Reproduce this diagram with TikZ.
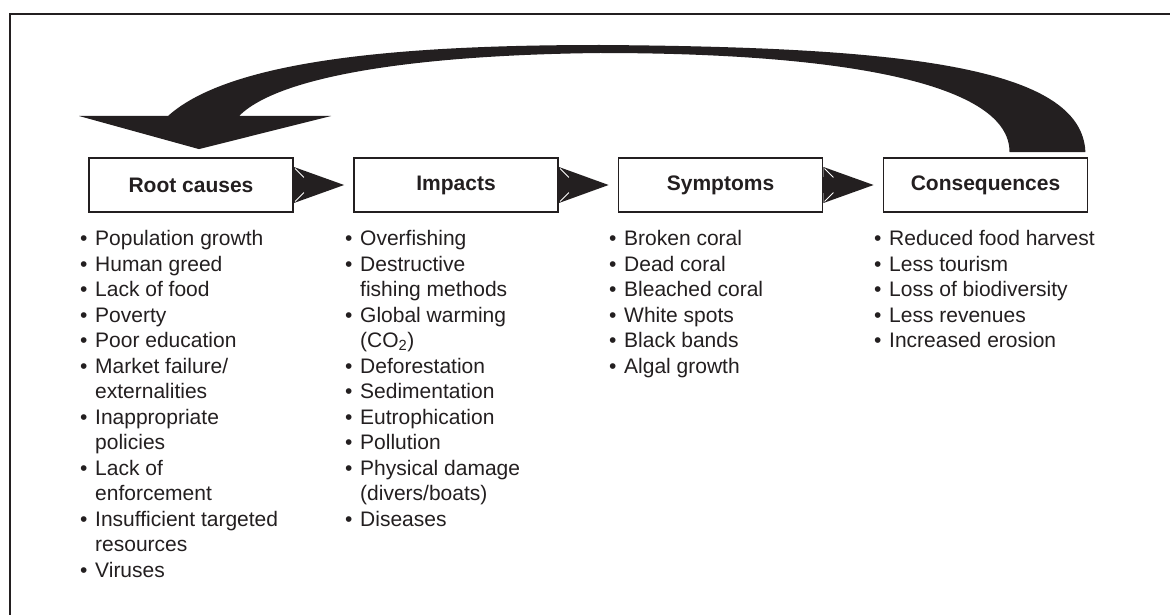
\documentclass[tikz,border=0pt]{standalone}
\usepackage{fontspec}
\setmainfont{Liberation Sans}
\usetikzlibrary{calc}
\definecolor{ink}{RGB}{35,31,32}
\newcommand{\bul}{\makebox[15pt][l]{•}}
\newcommand{\ind}{\hspace*{15pt}}
\begin{document}
\begin{tikzpicture}[x=1pt,y=-1pt,
  box/.style={draw=ink,line width=1.8pt,minimum width=204pt,minimum height=54pt,
    inner sep=0pt,font=\fontsize{21}{25.5}\selectfont\bfseries,text=ink},
  list/.style={anchor=north west,inner sep=0pt,align=left,
    font=\fontsize{21}{25.5}\selectfont,text=ink},
  frame/.style={draw=ink,line width=1.8pt}]
\useasboundingbox (0,0) rectangle (1170,615);
\fill[white] (0,0) rectangle (1170,615);
\draw[frame] (10,620) -- (10,14) -- (1175,14);

\node[box] (root) at (191,185) {Root causes};
\node[box] (imp) at (456,185) {Impacts};
\node[box] (sym) at (720.5,185) {Symptoms};
\node[box] (con) at (985.5,185) {Consequences};

% small connecting arrows
\foreach \a/\b in {root/imp,imp/sym,sym/con}{
  \coordinate (s) at (\a.east);
  \coordinate (t) at ($(\b.west)+(-9,0)$);
  \fill[ink] ($(s)+(0,-8)$) rectangle ($(s)+(22,8)$);
  \fill[ink] ($(s)+(0,-18)$) -- (t) -- ($(s)+(0,18)$) -- cycle;
  \draw[white,line width=0.9pt] ($(s)+(1.2,-16.5)$) -- ($(s)+(10,-7.5)$);
  \draw[white,line width=0.9pt] ($(s)+(1.2,16.5)$) -- ($(s)+(10,7.5)$);
}

% big feedback arrow
\coordinate (fbstart) at ($(con.north east)+(-3,-5)$);
\coordinate (fbinner) at ($(con.north)+(24,-5)$);
\coordinate (fbtip) at ($(root.north)+(8,-8)$);
\fill[ink] (79,116) -- (168,116)
  .. controls (230,60) and (400,45) .. (600,45)
  .. controls (900,47) and (1082,66) .. (fbstart)
  -- (fbinner)
  .. controls (1010,85) and (850,53) .. (600,53)
  .. controls (420,55) and (280,75) .. (239,116)
  -- (331,116) -- (fbtip) -- cycle;

% lists
\node[list] (l1) at (80,227.6) {\strut\bul Population growth\\
\bul Human greed\\
\bul Lack of food\\
\bul Poverty\\
\bul Poor education\\
\bul Market failure/\\
\ind externalities\\
\bul Inappropriate\\
\ind policies\\
\bul Lack of\\
\ind enforcement\\
\bul Insufficient targeted\\
\ind resources\\
\bul Viruses};

\node[list] (l2) at (345,227.6) {\strut\bul Overfishing\\
\bul Destructive\\
\ind fishing methods\\
\bul Global warming\\
\ind (CO\textsubscript{2})\\
\bul Deforestation\\
\bul Sedimentation\\
\bul Eutrophication\\
\bul Pollution\\
\bul Physical damage\\
\ind (divers/boats)\\
\bul Diseases};

\node[list] (l3) at (609,227.6) {\strut\bul Broken coral\\
\bul Dead coral\\
\bul Bleached coral\\
\bul White spots\\
\bul Black bands\\
\bul Algal growth};

\node[list] (l4) at (874,227.6) {\strut\bul Reduced food harvest\\
\bul Less tourism\\
\bul Loss of biodiversity\\
\bul Less revenues\\
\bul Increased erosion};
\end{tikzpicture}
\end{document}
